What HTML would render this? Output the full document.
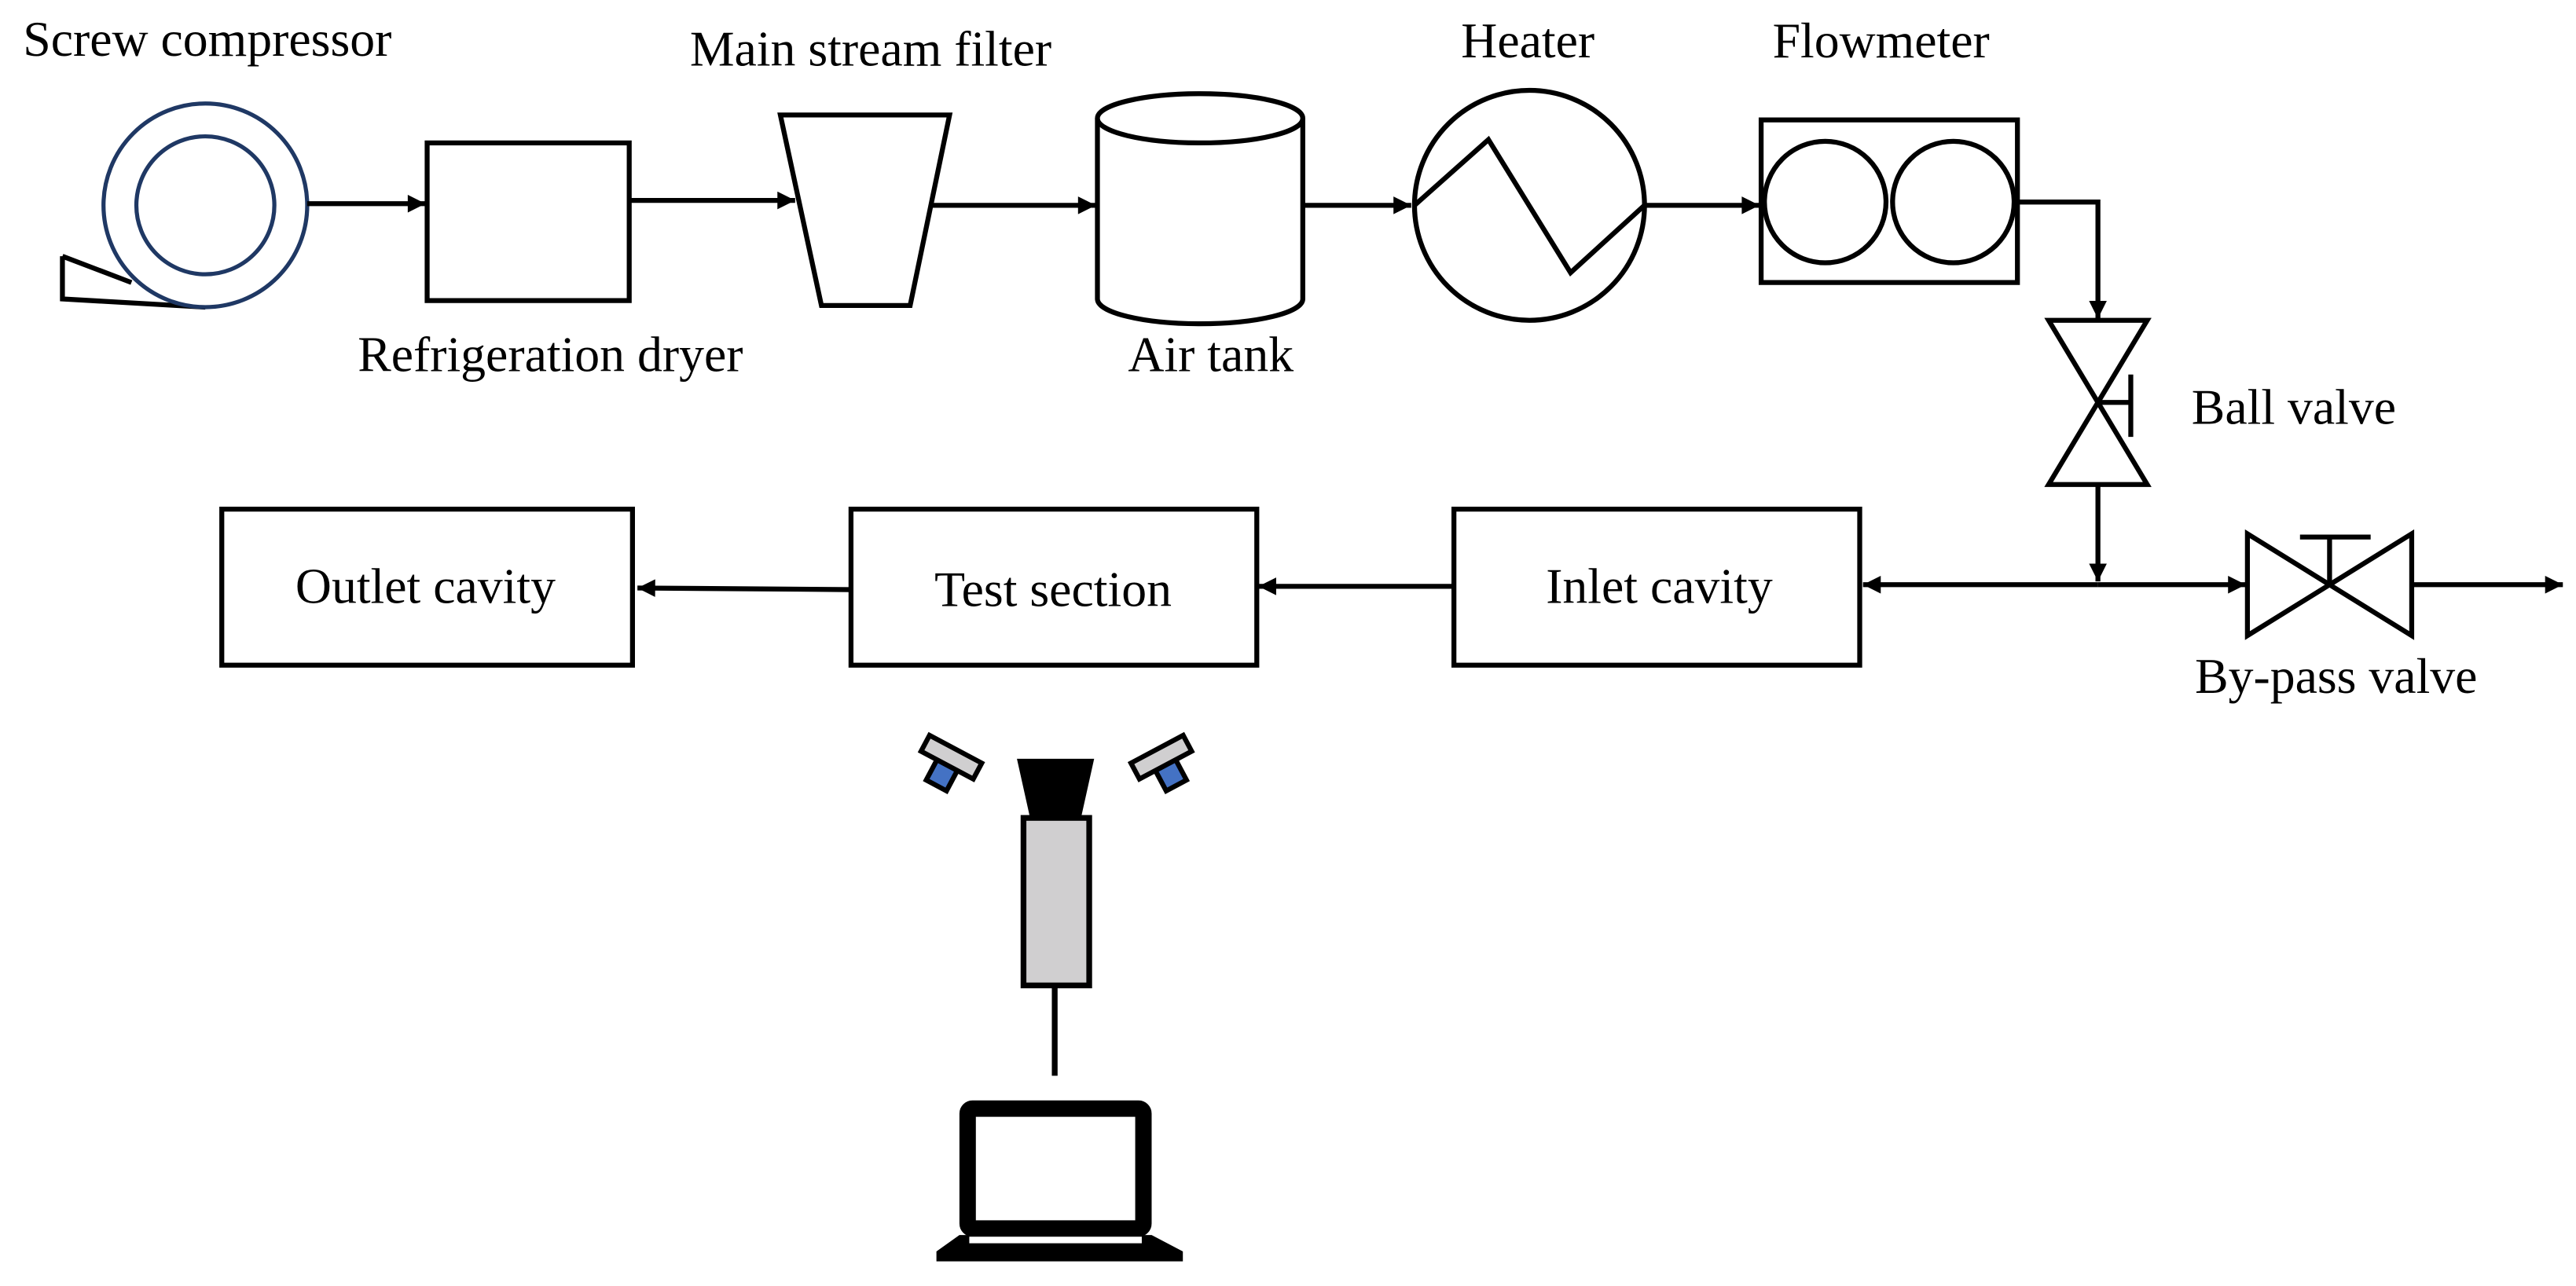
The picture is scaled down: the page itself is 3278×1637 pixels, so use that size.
<!DOCTYPE html>
<html><head><meta charset="utf-8"><style>
html,body{margin:0;padding:0;background:#fff;}
svg{display:block;}
text{font-family:"Liberation Serif",serif;font-size:30.5px;fill:#000;}
</style></head><body>
<svg width="3278" height="1637" viewBox="0 0 1568 783" xmlns="http://www.w3.org/2000/svg">
<defs>
<marker id="a" viewBox="0 0 10 10" refX="10" refY="5" markerWidth="4" markerHeight="3.6" orient="auto" markerUnits="strokeWidth">
<path d="M0,0 L10,5 L0,10 z" fill="#000"/></marker>
</defs>
<g fill="none" stroke="#000" stroke-width="3">
<!-- compressor -->
<path d="M38,156 L80,172 M38,156 L38,182 L125,187"/>
<circle cx="125" cy="125" r="62" stroke="#1f3864" stroke-width="2.5" fill="#fff"/>
<circle cx="125" cy="125" r="42" stroke="#1f3864" stroke-width="2.5"/>
<line x1="187" y1="124" x2="259" y2="124" marker-end="url(#a)"/>
<rect x="260" y="87" width="123" height="96"/>
<line x1="383" y1="122" x2="484" y2="122" marker-end="url(#a)"/>
<polygon points="475,70 578,70 554,186 500,186"/>
<line x1="566" y1="125" x2="667" y2="125" marker-end="url(#a)"/>
<!-- tank -->
<path d="M668,72 L668,182 A62,15 0 0 0 793,182 L793,72"/>
<ellipse cx="730.5" cy="72" rx="62.5" ry="15"/>
<line x1="793" y1="125" x2="859" y2="125" marker-end="url(#a)"/>
<!-- heater -->
<circle cx="931" cy="125" r="70"/>
<polyline points="861,125 906,85 956,166 1001,125"/>
<line x1="1001" y1="125" x2="1071" y2="125" marker-end="url(#a)"/>
<!-- flowmeter -->
<rect x="1072" y="73" width="156" height="99"/>
<circle cx="1111" cy="123" r="37"/>
<circle cx="1189" cy="123" r="37"/>
<polyline points="1228,123 1277,123 1277,194" marker-end="url(#a)"/>
<!-- ball valve -->
<polygon points="1247,195 1307,195 1277,245"/>
<polygon points="1277,245 1247,295 1307,295"/>
<path d="M1277,245 L1297,245 M1297,228 L1297,266"/>
<line x1="1277" y1="295" x2="1277" y2="354" marker-end="url(#a)"/>
<line x1="1277" y1="356" x2="1367" y2="356" marker-end="url(#a)"/>
<line x1="1277" y1="356" x2="1134" y2="356" marker-end="url(#a)"/>
<!-- bypass -->
<polygon points="1368,325 1368,387 1418,356"/>
<polygon points="1418,356 1468,325 1468,387"/>
<path d="M1418,356 L1418,327 M1400,327 L1443,327"/>
<line x1="1468" y1="356" x2="1560" y2="356" marker-end="url(#a)"/>
<!-- boxes -->
<rect x="885" y="310" width="247" height="95"/>
<line x1="885" y1="357" x2="766" y2="357" marker-end="url(#a)"/>
<rect x="518" y="310" width="247" height="95"/>
<line x1="518" y1="359" x2="388" y2="358" marker-end="url(#a)"/>
<rect x="135" y="310" width="250" height="95"/>
</g>
<!-- camera -->
<polygon points="619,462 666,462 658,498 627,498" fill="#000"/>
<rect x="623" y="498" width="40" height="102" fill="#d0cfd0" stroke="#000" stroke-width="3.5"/>
<line x1="642" y1="600" x2="642" y2="655" stroke="#000" stroke-width="3.5"/>
<!-- lights -->
<g transform="translate(577,465) rotate(28)">
<rect x="-7" y="1" width="14" height="14" fill="#4472c4" stroke="#000" stroke-width="3"/>
<rect x="-18" y="-10" width="36" height="11" fill="#d0cfd0" stroke="#000" stroke-width="3"/>
</g>
<g transform="translate(709,465) rotate(-28)">
<rect x="-7" y="1" width="14" height="14" fill="#4472c4" stroke="#000" stroke-width="3"/>
<rect x="-18" y="-10" width="36" height="11" fill="#d0cfd0" stroke="#000" stroke-width="3"/>
</g>
<!-- laptop -->
<rect x="589" y="675" width="107" height="73" rx="3" fill="none" stroke="#000" stroke-width="10"/>
<path d="M584,752 L701,752 L720,762 L720,768 L570,768 L570,762 Z" fill="#000"/>
<rect x="590" y="753" width="105" height="4" fill="#fff"/>
<!-- labels -->
<text x="14" y="34">Screw compressor</text>
<text x="335" y="226" text-anchor="middle">Refrigeration dryer</text>
<text x="530" y="40" text-anchor="middle">Main stream filter</text>
<text x="737" y="226" text-anchor="middle">Air tank</text>
<text x="930" y="35" text-anchor="middle">Heater</text>
<text x="1145" y="35" text-anchor="middle">Flowmeter</text>
<text x="1334" y="258">Ball valve</text>
<text x="1422" y="422" text-anchor="middle">By-pass valve</text>
<text x="1010" y="367" text-anchor="middle">Inlet cavity</text>
<text x="641" y="369" text-anchor="middle">Test section</text>
<text x="259" y="367" text-anchor="middle">Outlet cavity</text>
</svg>
</body></html>
